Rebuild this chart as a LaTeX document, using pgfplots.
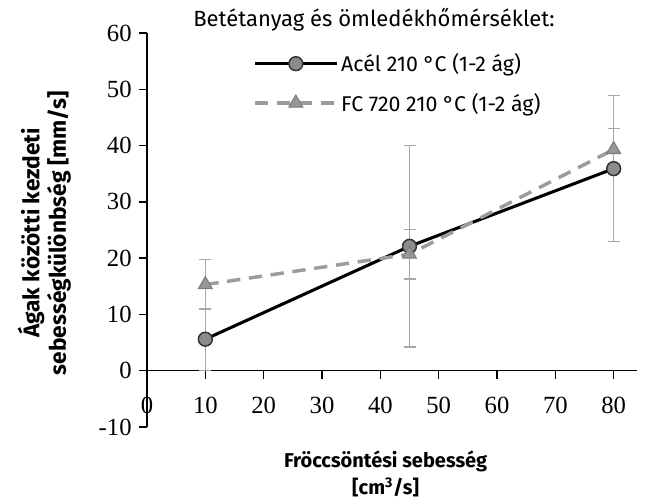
\documentclass[border=0pt]{standalone}
\usepackage{fontspec}
\setmainfont{Liberation Serif}
\newfontfamily\din{Fira Sans}
\usepackage{pgfplots}
\pgfplotsset{compat=1.18}

\definecolor{mkgray}{HTML}{8C8C8C}
\definecolor{dashgray}{HTML}{9C9C9C}
\definecolor{errgray}{HTML}{A8A8A8}

% x, y, error (symmetric)
\pgfplotstableread{
x y e
10 5.6 5.5
45 22.1 17.9
80 35.9 13.0
}\acel
\pgfplotstableread{
x y e
10 15.3 4.4
45 20.7 4.4
80 39.3 3.8
}\fcsev

\begin{document}
\begin{tikzpicture}
\useasboundingbox (-110.25pt,-54.75pt) rectangle (375.75pt,320.25pt);
\begin{axis}[
  scale only axis,
  width=367.5pt, height=295.5pt,
  xmin=0, xmax=84, ymin=-10, ymax=60,
  axis x line*=middle, axis y line*=left,
  axis line style={black, line width=1.1pt},
  xtick={0,10,...,80}, ytick={-10,0,...,60},
  hide obscured x ticks=false,
  tick align=outside, major tick length=6pt,
  tick style={black, line width=1.1pt},
  /pgf/number format/assume math mode=true,
  ticklabel style={font=\fontsize{18.5}{20}\selectfont},
  xticklabel style={yshift=-10pt},
  yticklabel style={xshift=-2pt},
  clip=false,
  legend style={draw=none, fill=none, at={(0.216,0.955)}, anchor=north west,
    font=\din\fontsize{16}{18}\selectfont, row sep=10.5pt, inner sep=0pt,
    /tikz/every even column/.style={column sep=3pt}},
  legend cell align=left,
  legend image code/.code={
    \draw[mark repeat=2,mark phase=2,#1] plot coordinates {(0pt,0pt) (30.75pt,0pt) (61.5pt,0pt)};
  },
]
% error bars first, behind the lines
\addplot[draw=none, forget plot, error bars/.cd, y dir=both, y explicit,
  error bar style={errgray, line width=0.9pt},
  error mark options={errgray, line width=0.9pt, rotate=90, mark size=4.5pt}]
  table[x=x, y=y, y error=e] {\acel};
\addplot[draw=none, forget plot, error bars/.cd, y dir=both, y explicit,
  error bar style={errgray, line width=0.9pt},
  error mark options={errgray, line width=0.9pt, rotate=90, mark size=4.5pt}]
  table[x=x, y=y, y error=e] {\fcsev};

\addplot[black, line width=2.3pt, mark=*, mark size=5.2pt,
  mark options={solid, fill=mkgray, draw=black!80, line width=1.1pt}]
  table[x=x, y=y] {\acel};
\addlegendentry{Acél 210 °C (1-2 ág)}
\addplot[dashgray, line width=2.6pt, dash pattern=on 10pt off 6.5pt, mark=triangle*, mark size=6pt,
  mark options={solid, fill=mkgray!90, draw=dashgray!80!black, line width=0.8pt}]
  table[x=x, y=y] {\fcsev};
\addlegendentry{FC 720 210 °C (1-2 ág)}
\end{axis}
\node[anchor=west, font=\din\fontsize{16.5}{18}\selectfont, inner sep=0pt] at (34.5pt,305.25pt) {Betétanyag és ömledékhőmérséklet:};
\node[align=center, font=\din\bfseries\fontsize{15}{20}\selectfont] at (179pt,-35pt) {Fröccsöntési sebesség\\{}[cm\textsuperscript{3}/s]};
\node[align=center, rotate=90, font=\din\bfseries\fontsize{17}{20}\selectfont] at (-77pt,145.5pt) {Ágak közötti kezdeti\\sebességkülönbség [mm/s]};
\end{tikzpicture}
\end{document}
